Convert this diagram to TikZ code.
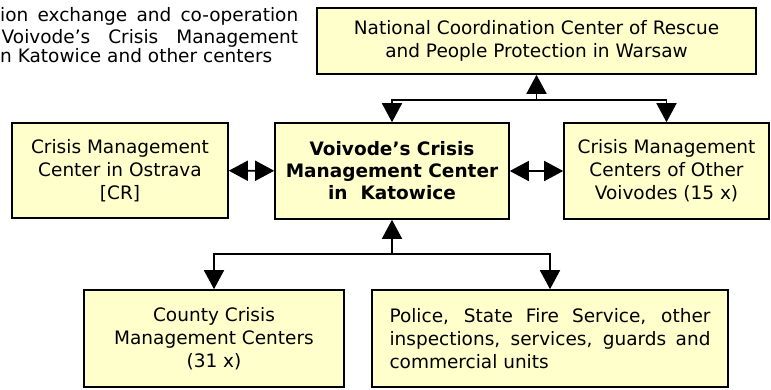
\documentclass[tikz,border=0pt]{standalone}
\usepackage{fontspec}
\setmainfont{DejaVu Sans}
\usetikzlibrary{arrows.meta}
\definecolor{boxfill}{HTML}{FFFFCC}
\tikzset{
  box/.style={draw, line width=1.6pt, fill=boxfill, align=center, inner sep=0pt,
    font=\fontsize{18.5}{23}\selectfont},
  note/.style={anchor=base west, inner sep=0pt, font=\fontsize{18.5}{21}\selectfont},
  link/.style={line width=1.6pt, -{Triangle[width=20pt,length=19pt]}},
  twoway/.style={line width=1.6pt, {Triangle[width=20pt,length=19pt]}-{Triangle[width=20pt,length=19pt]}},
}

\begin{document}
\begin{tikzpicture}[x=1pt,y=-1pt]
\useasboundingbox (0,0) rectangle (771,389);
% note text, top left
\node[note] (note1) at (0,21.7) {\makebox[298pt][s]{ion exchange and co-operation}};
\node[note] (note2) at (1.5,43) {\makebox[296.5pt][s]{Voivode’s Crisis Management}};
\node[note] (note3) at (0,62.7) {n Katowice and other centers};
% boxes
\node[box, minimum width=439pt, minimum height=66pt] (top) at (536.5,41)
  {National Coordination Center of Rescue\\and People Protection in Warsaw};
\node[box, minimum width=216pt, minimum height=95pt] (ostrava) at (120,170.5)
  {Crisis Management\\Center in Ostrava\\{[CR]}};
\node[box, minimum width=234pt, minimum height=96pt, font=\fontsize{18.5}{22}\selectfont\bfseries] (ctr) at (392,171)
  {Voivode’s Crisis\\Management Center\\in\ \ Katowice};
\node[box, minimum width=205pt, minimum height=96pt] (other) at (666.5,171)
  {Crisis Management\\Centers of Other\\Voivodes (15 x)};
\node[box, minimum width=260pt, minimum height=97pt] (county) at (214,338.5)
  {County Crisis\\Management Centers\\(31 x)};
\node[box, minimum width=356pt, minimum height=97pt, align=left] (police) at (550,338.5)
  {\makebox[321pt][s]{Police, State Fire Service, other}\\
   \makebox[321pt][s]{inspections, services, guards and}\\
   commercial units};
% connectors
\coordinate (upjoin) at (top.south |- 0,100);
\coordinate (downjoin) at (ctr.south |- 0,254);
\draw[link] (upjoin) -- (top.south);
\draw[link] (upjoin) -| (ctr.north);
\draw[link] (upjoin) -| (other.north);
\draw[link] (downjoin) -- (ctr.south);
\draw[link] (downjoin) -| (county.north);
\draw[link] (downjoin) -| (police.north);
\draw[twoway] (ostrava) -- (ctr);
\draw[twoway] (ctr) -- (other);
\end{tikzpicture}
\end{document}
